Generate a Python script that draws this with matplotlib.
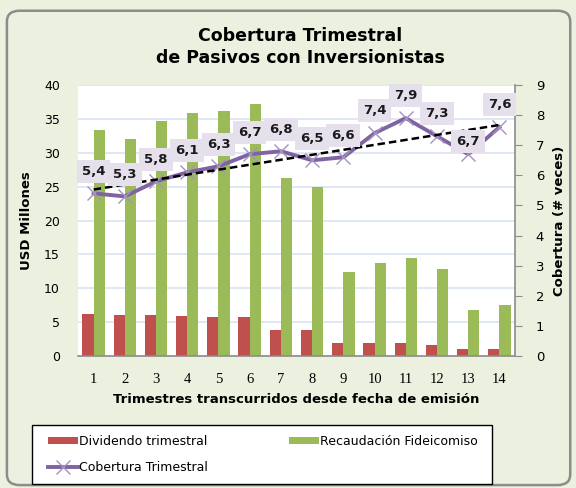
import numpy as np
import matplotlib
matplotlib.use("Agg")
import matplotlib.pyplot as plt
from matplotlib.patches import FancyBboxPatch, Rectangle

# data
trimestres = np.arange(1, 15)
dividendo = [6.2, 6.0, 6.0, 5.85, 5.7, 5.7, 3.85, 3.85, 1.87, 1.87, 1.87, 1.67, 0.98, 0.98]
recaudacion = [33.4, 32.0, 34.7, 35.8, 36.1, 37.2, 26.2, 24.9, 12.35, 13.7, 14.4, 12.9, 6.8, 7.5]
cobertura = [5.4, 5.3, 5.8, 6.1, 6.3, 6.7, 6.8, 6.5, 6.6, 7.4, 7.9, 7.3, 6.7, 7.6]
left_ticks = [0, 5, 10, 15, 20, 25, 30, 35, 40]
right_ticks = list(range(0, 10))

RED = "#C0504D"
GREEN = "#9BBB59"
PURPLE = "#8064A2"
BG = "#EBF1DE"
GRID = "#DCE6F2"

plt.rcParams["font.family"] = ["DejaVu Sans"]

W, H = 576, 488
fig = plt.figure(figsize=(W / 100, H / 100), dpi=100, facecolor=BG)
fig.patches.append(FancyBboxPatch((0.012, 0.006), 0.978, 0.972,
                                  boxstyle="round,pad=0,rounding_size=0.022",
                                  transform=fig.transFigure, facecolor=BG,
                                  edgecolor="#8C8C8C", linewidth=1.8, zorder=-10))

ax = fig.add_axes([78 / W, 1 - 356 / H, (515 - 78) / W, (356 - 85) / H])
ax.set_facecolor("white")
w = 0.36
ax.bar(trimestres - w / 2, dividendo, width=w, color=RED, label="Dividendo trimestral", zorder=2)
ax.bar(trimestres + w / 2, recaudacion, width=w, color=GREEN, label="Recaudación Fideicomiso", zorder=2)
ax.set_ylim(0, 40)
ax.set_xlim(0.5, 14.5)
ax.set_yticks(left_ticks)
ax.set_xticks(trimestres)
ax.set_xticklabels([str(t) for t in trimestres], family="Liberation Serif", fontsize=10.5)
ax.tick_params(axis="y", length=0, labelsize=9, pad=13)
ax.tick_params(axis="x", length=0, pad=12)
ax.grid(axis="y", color=GRID, linewidth=1.3, zorder=0)
ax.set_axisbelow(True)
for s in ("top", "left", "right"):
    ax.spines[s].set_visible(False)
ax.spines["bottom"].set_color("#8C8C8C")
ax.spines["bottom"].set_linewidth(1.2)
ax.set_ylabel("USD Millones", fontsize=9.5, fontweight="bold", labelpad=8)
ax.set_xlabel("Trimestres transcurridos desde fecha de emisión", fontsize=9.5,
              fontweight="bold", labelpad=5)

ax2 = ax.twinx()
ax2.set_ylim(0, 9)
ax2.set_yticks(right_ticks)
ax2.tick_params(axis="y", length=5, color="#8C8C8C", labelsize=9.5, pad=10)
for s in ("top", "left", "bottom"):
    ax2.spines[s].set_visible(False)
ax2.spines["right"].set_color("#8C8C8C")
ax2.spines["right"].set_linewidth(1.2)
ax2.set_ylabel("Cobertura (# veces)", fontsize=9.5, fontweight="bold", labelpad=6)

ax2.plot(trimestres, cobertura, color=PURPLE, linewidth=2.8, marker="x", markersize=10,
         markeredgecolor="#A592C0", markeredgewidth=1.0, label="Cobertura Trimestral", zorder=4)
slope, icept = np.polyfit(trimestres, cobertura, 1)
ax2.plot(trimestres, slope * trimestres + icept, color="black", linestyle=(0, (3, 1.6)),
         linewidth=1.8, zorder=5)

for i, (t, v) in enumerate(zip(trimestres, cobertura)):
    off = 9 if i == 12 else 16
    ax2.annotate(f"{v:.1f}".replace(".", ","), (t, v), xytext=(0, off),
                 textcoords="offset points", ha="center", va="center",
                 fontsize=9.5, fontweight="bold", color="#1a1a1a", zorder=6,
                 bbox=dict(boxstyle="square,pad=0.38", facecolor="#E6E0EC", edgecolor="none"))

fig.text(0.521, 1 - 47 / H, "Cobertura Trimestral\nde Pasivos con Inversionistas", ha="center",
         va="center", fontsize=12.5, fontweight="bold", linespacing=1.3)

# legend box drawn separately so the entries can sit inside with Excel-like padding
fig.patches.append(Rectangle((32 / W, 1 - 484 / H), 460 / W, 59 / H, transform=fig.transFigure,
                             facecolor="white", edgecolor="black", linewidth=1.0, zorder=1))
h1, l1 = ax.get_legend_handles_labels()
h2, l2 = ax2.get_legend_handles_labels()
handles = [h1[0], h2[0], h1[1]]
labels = [l1[0], l2[0], l1[1]]
leg = fig.legend(handles, labels, loc="center", ncol=2, mode="expand",
                 bbox_to_anchor=(48 / W, 1 - 482 / H, (478 - 48) / W, 55 / H),
                 bbox_transform=fig.transFigure, fontsize=9, frameon=False,
                 borderaxespad=0, borderpad=0, handlelength=2.4, handleheight=0.5,
                 handletextpad=0.1, labelspacing=1.1, columnspacing=3.0)

fig.savefig("out.png", dpi=100, facecolor=BG)
